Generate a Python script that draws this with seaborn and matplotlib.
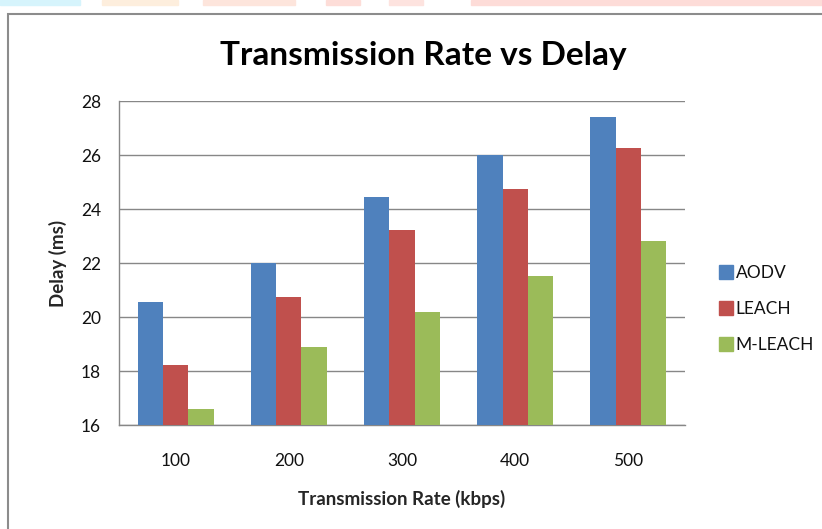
import pandas as pd
import matplotlib.pyplot as plt
import matplotlib.patches as mpatches
import seaborn as sns

# data
rates = ["100", "200", "300", "400", "500"]
aodv = [20.55, 22.0, 24.45, 26.0, 27.42]
leach = [18.23, 20.73, 23.22, 24.73, 26.25]
mleach = [16.6, 18.9, 20.2, 21.52, 22.83]
protocols = ["AODV", "LEACH", "M-LEACH"]
colors = ["#4F81BD", "#C0504D", "#9BBB59"]

df = pd.DataFrame({
    "rate": rates * 3,
    "delay": aodv + leach + mleach,
    "protocol": [p for p in protocols for _ in rates],
})

sns.set_style("white")
plt.rcParams["font.family"] = ["Lato", "DejaVu Sans"]
plt.rcParams["text.color"] = "#111111"

fig = plt.figure(figsize=(8.22, 5.29), dpi=100)

# page artefacts: coloured strips at top and the chart frame
strips = [(0, 80, "#D6F4FC"), (102, 178, "#FDEEDD"), (203, 295, "#FDE5DC"),
          (326, 360, "#FDDDD8"), (389, 423, "#FDE3DF"), (471, 822, "#FDDCD8")]
for x0, x1, c in strips:
    fig.patches.append(mpatches.Rectangle((x0 / 822, 1 - 5 / 529), (x1 - x0) / 822, 5 / 529,
                                          transform=fig.transFigure, color=c, zorder=0))
fig.patches.append(mpatches.Rectangle((8 / 822, -0.01), 1, 1 - 14 / 529 + 0.01,
                                      transform=fig.transFigure, fill=False,
                                      edgecolor="#8C8C8C", linewidth=1.5, zorder=1))

ax = fig.add_axes([119 / 822, 1 - 425 / 529, (685 - 119) / 822, (425 - 101) / 529])
sns.barplot(data=df, x="rate", y="delay", hue="protocol", palette=colors, saturation=1,
            width=0.67, gap=0, linewidth=0, ax=ax, legend=False, zorder=3)

ax.set_ylim(16, 28)
ax.set_yticks(range(16, 29, 2))
ax.set_xlim(-0.5, 4.5)
ax.yaxis.grid(True, color="#878787", linewidth=1, zorder=0)
ax.set_axisbelow(True)
for s in ["top", "right"]:
    ax.spines[s].set_visible(False)
for s in ["left", "bottom"]:
    ax.spines[s].set_color("#878787")
    ax.spines[s].set_linewidth(1)

ax.tick_params(axis="y", direction="out", length=5, color="#878787", labelsize=12.5,
               pad=8, labelcolor="#111111")
ax.tick_params(axis="x", which="major", length=0, labelsize=12.5, pad=20, labelcolor="#111111")
ax.set_xticks([i - 0.5 for i in range(6)], minor=True)
ax.tick_params(axis="x", which="minor", direction="out", length=5, color="#878787")

ax.set_xlabel("Transmission Rate (kbps)", fontsize=13.5, fontweight="bold", labelpad=15)
ax.set_ylabel("Delay (ms)", fontsize=13.5, fontweight="bold", labelpad=10)
fig.text(423 / 822, 1 - 55 / 529, "Transmission Rate vs Delay", ha="center", va="center",
         fontsize=24, fontweight="bold", color="black")

handles = [mpatches.Patch(color=c, label=p) for p, c in zip(protocols, colors)]
fig.legend(handles=handles, loc="center left", bbox_to_anchor=(719 / 822, 1 - 309 / 529),
           frameon=False, fontsize=12.5, handlelength=0.8, handleheight=0.8,
           handletextpad=0.15, labelspacing=1.15, borderpad=0, borderaxespad=0)

fig.savefig("out.png", dpi=100)
